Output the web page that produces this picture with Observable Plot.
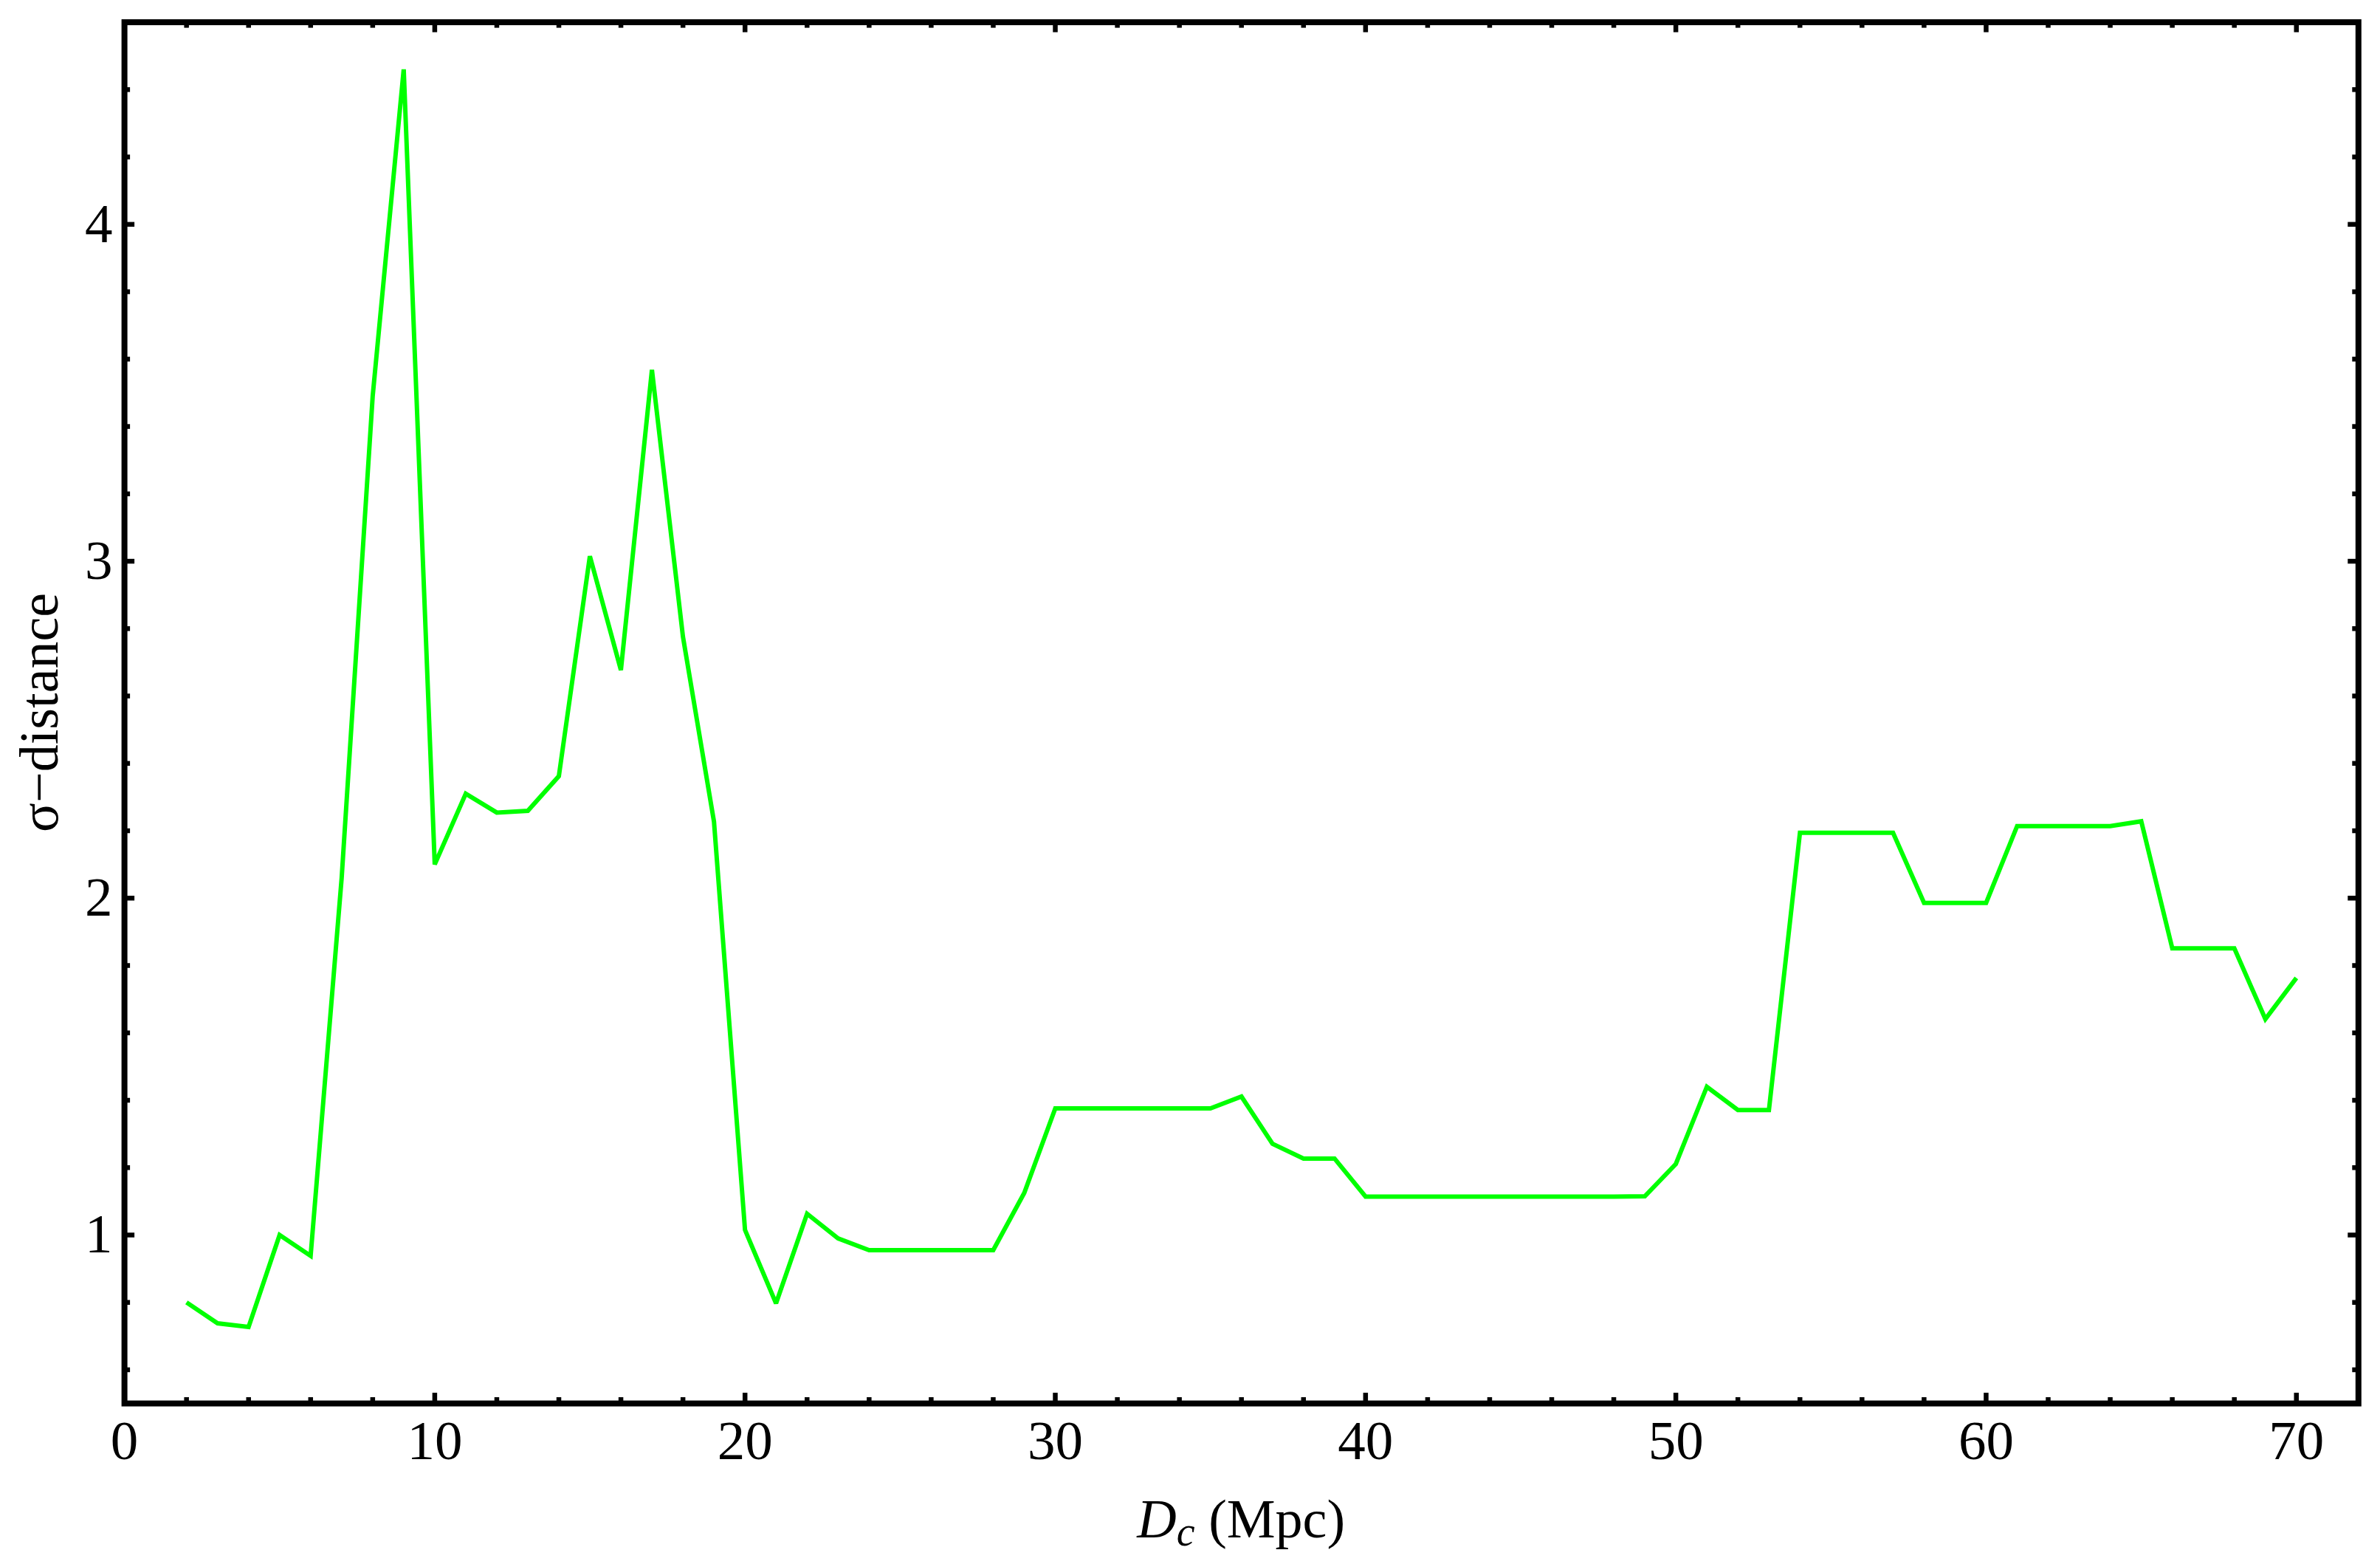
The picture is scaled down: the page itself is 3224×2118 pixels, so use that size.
<!DOCTYPE html>
<html>
<head>
<meta charset="utf-8">
<script src="https://cdn.jsdelivr.net/npm/d3@7"></script>
<script src="https://cdn.jsdelivr.net/npm/@observablehq/plot@0.6"></script>
<style>
html, body { margin: 0; padding: 0; background: #fff; }
#chart svg { display: block; }
</style>
</head>
<body>
<div id="chart"></div>
<script>
// ---- data ----
const distance = [2,3,4,5,6,7,8,9,10,11,12,13,14,15,16,17,18,19,20,21,22,23,24,25,26,27,28,29,30,31,32,33,34,35,36,37,38,39,40,41,42,43,44,45,46,47,48,49,50,51,52,53,54,55,56,57,58,59,60,61,62,63,64,65,66,67,68,69,70];
const sigma = [0.80,0.738,0.727,1.00,0.938,2.06,3.49,4.46,2.10,2.31,2.254,2.259,2.362,3.015,2.677,3.568,2.776,2.227,1.015,0.797,1.063,0.990,0.955,0.955,0.955,0.955,0.955,1.125,1.376,1.376,1.376,1.376,1.376,1.376,1.411,1.271,1.227,1.227,1.114,1.114,1.114,1.114,1.114,1.114,1.114,1.114,1.114,1.115,1.211,1.440,1.371,1.371,2.194,2.194,2.194,2.194,1.986,1.986,1.986,2.214,2.214,2.214,2.214,2.228,1.851,1.851,1.851,1.641,1.763];

const xMajorTicks = [0,10,20,30,40,50,60,70];
const xMinorTicks = [2,4,6,8,12,14,16,18,22,24,26,28,32,34,36,38,42,44,46,48,52,54,56,58,62,64,66,68];
const yMajorTicks = [1,2,3,4];
const yMinorTicks = [0.6,0.8,1.2,1.4,1.6,1.8,2.2,2.4,2.6,2.8,3.2,3.4,3.6,3.8,4.2,4.4];

const xLabelMain = "D";
const xLabelSub = "c";
const xLabelUnit = " (Mpc)";
const yLabel = "σ−distance";

// ---- layout ----
const W = 3224, H = 2118;
const mL = 168.1, mR = 29.7, mT = 29.6, mB = 217.9;
const innerW = W - mL - mR, innerH = H - mT - mB;
const majorLen = 14, minorLen = 8, tickW = 6.5;
const fontFamily = "'Liberation Serif', 'Times New Roman', serif";

const table = distance.map((d, i) => ({d, s: sigma[i]}));
const fmt = d => String(d);

const chart = Plot.plot({
  width: W,
  height: H,
  marginLeft: mL,
  marginRight: mR,
  marginTop: mT,
  marginBottom: mB,
  style: {fontFamily, background: "#fff", color: "#000"},
  x: {domain: [0, 72]},
  y: {domain: [0.5, 4.6]},
  marks: [
    // ticks on the bottom / top edges
    Plot.tickX(xMajorTicks, {x: d => d, insetTop: innerH - majorLen, stroke: "#000", strokeWidth: tickW}),
    Plot.tickX(xMinorTicks, {x: d => d, insetTop: innerH - minorLen, stroke: "#000", strokeWidth: tickW}),
    Plot.tickX(xMajorTicks, {x: d => d, insetBottom: innerH - majorLen, stroke: "#000", strokeWidth: tickW}),
    Plot.tickX(xMinorTicks, {x: d => d, insetBottom: innerH - minorLen, stroke: "#000", strokeWidth: tickW}),
    // ticks on the left / right edges
    Plot.tickY(yMajorTicks, {y: d => d, insetRight: innerW - majorLen, stroke: "#000", strokeWidth: tickW}),
    Plot.tickY(yMinorTicks, {y: d => d, insetRight: innerW - minorLen, stroke: "#000", strokeWidth: tickW}),
    Plot.tickY(yMajorTicks, {y: d => d, insetLeft: innerW - majorLen, stroke: "#000", strokeWidth: tickW}),
    Plot.tickY(yMinorTicks, {y: d => d, insetLeft: innerW - minorLen, stroke: "#000", strokeWidth: tickW}),
    // tick labels
    Plot.axisX({ticks: xMajorTicks, tickFormat: fmt, anchor: "bottom", tickSize: 0, tickPadding: 22, fontSize: 75, label: null}),
    Plot.axisY({ticks: yMajorTicks, tickFormat: fmt, anchor: "left", tickSize: 0, tickPadding: 16, fontSize: 75, label: null}),
    // data
    Plot.line(table, {x: "d", y: "s", stroke: "#00ff00", strokeWidth: 6, strokeLinejoin: "miter", strokeMiterlimit: 2, strokeLinecap: "butt"}),
    Plot.frame({stroke: "#000", strokeWidth: 8})
  ]
});

document.getElementById("chart").appendChild(chart);

// axis titles with mixed styling
const svg = d3.select(chart);
const xs = chart.scale("x"), ys = chart.scale("y");
const cx = (xs.apply(0) + xs.apply(72)) / 2;
const cy = (ys.apply(0.5) + ys.apply(4.6)) / 2;

const xt = svg.append("text")
  .attr("x", cx).attr("y", 2082)
  .attr("text-anchor", "middle")
  .attr("font-family", fontFamily)
  .attr("font-size", 74)
  .attr("fill", "#000");
xt.append("tspan").attr("font-style", "italic").text(xLabelMain);
xt.append("tspan").attr("font-style", "italic").attr("font-size", 56).attr("dy", 11).text(xLabelSub);
xt.append("tspan").attr("dy", -11).text(xLabelUnit);

svg.append("text")
  .attr("transform", `translate(78,${cy}) rotate(-90)`)
  .attr("text-anchor", "middle")
  .attr("font-family", fontFamily)
  .attr("font-size", 74)
  .attr("fill", "#000")
  .text(yLabel);
</script>
</body>
</html>
